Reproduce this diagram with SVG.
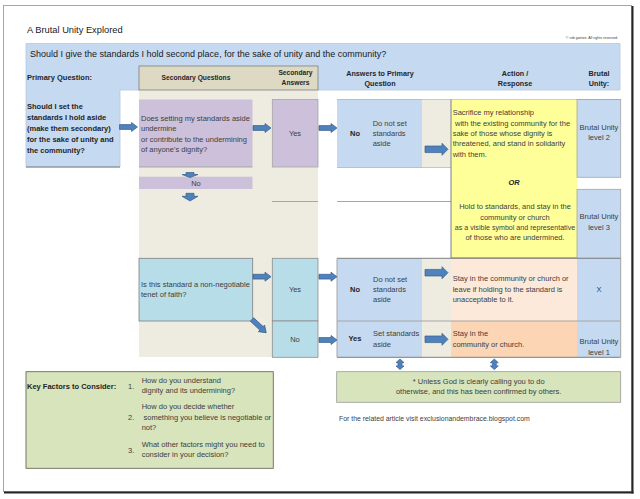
<svg xmlns="http://www.w3.org/2000/svg" xmlns:xlink="http://www.w3.org/1999/xlink" width="640" height="499" viewBox="0 0 640 499">
<style>
text { font-family: "Liberation Sans", Arial, sans-serif; }
.t { font-size: 7.5px; fill: #404040; }
.b { font-size: 7.5px; font-weight: bold; fill: #1f1f1f; }
.h { font-size: 7.2px; font-weight: bold; fill: #262626; }
.c { text-anchor: middle; }
.ln { stroke: #a6a6a6; stroke-width: 1; fill: none; }
.dk { stroke: #7f7f7f; stroke-width: 1; fill: none; }
.ar { fill: #4f81bd; stroke: #385d8a; stroke-width: 0.7; }
</style>
<defs>
<path id="ha" d="M0,-2.4 H12 V-4.5 L18,0 L12,4.5 V2.4 H0 Z"/>
<path id="hb" d="M0,-3.3 H17 V-6 L23,0 L17,6 V3.3 H0 Z"/>
<path id="dbl" d="M0,-5.3 L4,-1.6 H2 V1.6 H4 L0,5.3 L-4,1.6 H-2 V-1.6 H-4 Z"/>
</defs>

<g id="frame">
<rect x="3.5" y="5.5" width="628" height="486" fill="#ffffff" stroke="#a6a6a6" stroke-width="1"/>
<line x1="632.5" y1="6" x2="632.5" y2="493.5" stroke="#262626" stroke-width="2"/>
<line x1="4" y1="492.5" x2="633.5" y2="492.5" stroke="#262626" stroke-width="2"/>
<text x="27" y="33" style="font-size:9.3px;fill:#1a1a1a">A Brutal Unity Explored</text>
<text x="618" y="39" style="font-size:3.6px;fill:#404040;text-anchor:end">© rob goetze. All rights reserved.</text>
</g>

<g id="header">
<path d="M26,43.5 H620 V90 H120 V167 H26 Z" fill="#c5d9f1" stroke="#b4c7e0" stroke-width="0.8"/>
<line x1="26" y1="167" x2="120" y2="167" class="dk"/>
<text x="30" y="57" style="font-size:9px;fill:#1a1a1a">Should I give the standards I hold second place, for the sake of unity and the community?</text>
<text x="27" y="79.5" class="h" style="font-size:7.5px">Primary Question:</text>
<text x="380" y="76" class="h c">Answers to Primary</text>
<text x="380" y="86" class="h c">Question</text>
<text x="515" y="76" class="h c">Action /</text>
<text x="515" y="86" class="h c">Response</text>
<text x="599" y="76" class="h c">Brutal</text>
<text x="599" y="86" class="h c">Unity:</text>
</g>

<g id="secondary-column">
<rect x="139" y="90" width="179" height="267" fill="#eeece1"/>
<rect x="139" y="66" width="179" height="24" fill="#ddd9c3" stroke="#7f7f7f" stroke-width="0.8"/>
<text x="196" y="79.5" class="h c" style="font-size:6.7px">Secondary Questions</text>
<text x="295.5" y="75" class="h c" style="font-size:6.7px">Secondary</text>
<text x="295.5" y="85" class="h c" style="font-size:6.7px">Answers</text>
<line x1="272" y1="201.5" x2="318" y2="201.5" class="ln"/>
</g>

<g id="primary-question">
<text class="b" x="27" y="108.7">Should I set the</text>
<text class="b" x="27" y="119.7">standards I hold aside</text>
<text class="b" x="27" y="130.7">(make them secondary)</text>
<text class="b" x="27" y="141.7">for the sake of unity and</text>
<text class="b" x="27" y="152.7">the community?</text>
</g>

<g id="q-dignity">
<rect x="139" y="99.5" width="113.5" height="67.5" fill="#ccc0da"/>
<line x1="139" y1="167" x2="252.5" y2="167" class="ln"/>
<text class="t" x="141" y="120.7">Does setting my standards aside</text>
<text class="t" x="141" y="131">undermine</text>
<text class="t" x="141" y="141.5">or contribute to the undermining</text>
<text class="t" x="141" y="152">of anyone's dignity?</text>
</g>

<g id="a-dignity-yes">
<rect x="272.3" y="99.5" width="45.7" height="67.5" fill="#ccc0da" stroke="#a6a6a6" stroke-width="0.8"/>
<text class="t c" x="295" y="136">Yes</text>
</g>

<g id="a-dignity-no">
<rect x="139" y="176.7" width="113.5" height="12.3" fill="#ccc0da"/>
<text class="t c" x="196" y="186">No</text>
</g>

<g id="q-negotiable">
<rect x="139" y="258.3" width="113.7" height="62.7" fill="#b7dde8" stroke="#7f7f7f" stroke-width="0.8"/>
<text class="t" x="141" y="286.7">Is this standard a non-negotiable</text>
<text class="t" x="141" y="297.3">tenet of faith?</text>
</g>

<g id="a-negotiable-yes">
<rect x="272.3" y="258.3" width="45.7" height="62.7" fill="#b7dde8" stroke="#8c8c8c" stroke-width="0.8"/>
<text class="t c" x="295" y="292">Yes</text>
</g>

<g id="a-negotiable-no">
<rect x="272.3" y="321" width="45.7" height="36.3" fill="#b7dde8" stroke="#8c8c8c" stroke-width="0.8"/>
<text class="t c" x="295" y="341.7">No</text>
</g>

<g id="row-lines">
<line x1="337" y1="99.5" x2="620.7" y2="99.5" class="ln"/>
<line x1="337" y1="167.3" x2="451" y2="167.3" class="ln"/>
<line x1="337" y1="201.5" x2="451" y2="201.5" class="ln"/>
</g>

<g id="ans-no-1">
<rect x="337" y="99.5" width="85" height="67.8" fill="#c5d9f1"/>
<rect x="422" y="99.5" width="29" height="67.8" fill="#eeece1"/>
<text class="b c" x="355" y="135.7">No</text>
<text class="t" x="372.7" y="125.7">Do not set</text>
<text class="t" x="372.7" y="136">standards</text>
<text class="t" x="372.7" y="146.3">aside</text>
</g>

<g id="action-sacrifice-or-hold">
<rect x="451" y="99.5" width="126" height="158.5" fill="#ffff99"/>
<path d="M451,99.5 V258 H577" class="dk" stroke="#6b6b47"/>
<text class="t" x="452.7" y="115.3">Sacrifice my relationship</text>
<text class="t" x="455" y="125.7">with the existing community for the</text>
<text class="t" x="452.7" y="136">sake of those whose dignity is</text>
<text class="t" x="452.7" y="146.3">threatened, and stand in solidarity</text>
<text class="t" x="452.7" y="156.7">with them.</text>
<text class="c" x="514" y="185" style="font-size:7.5px;font-weight:bold;font-style:italic;fill:#262626">OR</text>
<text class="t c" x="515" y="209.3">Hold to standards, and stay in the</text>
<text class="t c" x="515" y="219.7">community or church</text>
<text class="t c" x="515" y="229.7" style="font-size:7.1px">as a visible symbol and representative</text>
<text class="t c" x="515" y="240">of those who are undermined.</text>
</g>

<g id="brutal-level-2">
<rect x="577" y="99.5" width="43.7" height="77.8" fill="#c5d9f1" stroke="#a6a6a6" stroke-width="0.8"/>
<text class="t c" x="599" y="130">Brutal Unity</text>
<text class="t c" x="599" y="140.3">level 2</text>
</g>

<g id="brutal-level-3">
<rect x="577" y="189.3" width="43.7" height="69" fill="#c5d9f1" stroke="#a6a6a6" stroke-width="0.8"/>
<text class="t c" x="599" y="219.3">Brutal Unity</text>
<text class="t c" x="599" y="229.7">level 3</text>
</g>

<g id="ans-no-2">
<rect x="337" y="258.3" width="85" height="62.7" fill="#c5d9f1"/>
<rect x="422" y="258.3" width="29" height="62.7" fill="#eeece1"/>
<text class="b c" x="355" y="292">No</text>
<text class="t" x="373" y="281.7">Do not set</text>
<text class="t" x="373" y="292">standards</text>
<text class="t" x="373" y="302.3">aside</text>
</g>

<g id="action-stay-or-leave">
<rect x="451" y="258.3" width="126" height="62.7" fill="#fde9d9"/>
<text class="t" x="452.7" y="281.3">Stay in the community or church or</text>
<text class="t" x="452.7" y="291.7">leave if holding to the standard is</text>
<text class="t" x="452.7" y="302">unacceptable to it.</text>
</g>

<g id="brutal-x">
<rect x="577" y="258.3" width="43.7" height="62.7" fill="#c5d9f1"/>
<text class="t c" x="599" y="291.7">X</text>
</g>

<g id="ans-yes">
<rect x="337" y="321" width="85" height="36.3" fill="#c5d9f1"/>
<rect x="422" y="321" width="29" height="36.3" fill="#eeece1"/>
<text class="b c" x="355" y="341">Yes</text>
<text class="t" x="373" y="336">Set  standards</text>
<text class="t" x="373" y="346.7">aside</text>
</g>

<g id="action-stay">
<rect x="451" y="321" width="126" height="36.3" fill="#fcd5b4"/>
<text class="t" x="452.7" y="336">Stay in the</text>
<text class="t" x="452.7" y="346.7">community or church.</text>
</g>

<g id="brutal-level-1">
<rect x="577" y="321" width="43.7" height="36.3" fill="#c5d9f1"/>
<text class="t c" x="599" y="344">Brutal Unity</text>
<text class="t c" x="599" y="354.7">level 1</text>
</g>

<g id="table-lines">
<line x1="337" y1="258.3" x2="620.7" y2="258.3" class="dk"/>
<line x1="337" y1="321" x2="620.7" y2="321" class="ln"/>
<line x1="337" y1="357.3" x2="620.7" y2="357.3" class="dk"/>
<line x1="620.7" y1="258.3" x2="620.7" y2="357.3" class="ln"/>
<line x1="337" y1="258.3" x2="337" y2="357.3" class="ln"/>
</g>

<g id="note">
<rect x="336.7" y="371.7" width="284" height="30.6" fill="#d7e4bc" stroke="#9a9a9a" stroke-width="0.8"/>
<text class="t c" x="478.7" y="384">* Unless God is clearly calling you to do</text>
<text class="t c" x="478.7" y="394">otherwise, and this has been confirmed by others.</text>
</g>

<g id="link">
<text class="t" x="339" y="420.7" style="font-size:6.9px">For the related article visit exclusionandembrace.blogspot.com</text>
</g>

<g id="key-factors">
<rect x="26" y="371.7" width="247.3" height="96.6" fill="#d7e4bc" stroke="#6b6b5a" stroke-width="0.9"/>
<text class="b" x="27" y="389.3">Key Factors to Consider:</text>
<text class="t" x="128" y="389.3">1.</text>
<text class="t" x="141.7" y="383.3">How do you understand</text>
<text class="t" x="141.7" y="393.3">dignity and its undermining?</text>
<text class="t" x="141.7" y="409">How do you decide whether</text>
<text class="t" x="128" y="420">2.</text>
<text class="t" x="143.5" y="420">something you believe is negotiable or</text>
<text class="t" x="141.7" y="430">not?</text>
<text class="t" x="141.7" y="447.3">What other factors might you need to</text>
<text class="t" x="128" y="453.3">3.</text>
<text class="t" x="141.7" y="457.3">consider in your decision?</text>
</g>

<g id="connectors">
<use href="#ha" class="ar" transform="translate(119.5,127)"/>
<use href="#ha" class="ar" transform="translate(253,128)"/>
<use href="#ha" class="ar" transform="translate(319,128)"/>
<use href="#hb" class="ar" transform="translate(425,149.3)"/>
<path class="ar" d="M186,172.5 H194 V174.5 H198 L190,177.5 L182,174.5 H186 Z"/>
<path class="ar" d="M186,193.3 H194 V196.3 H198 L190,201 L182,196.3 H186 Z"/>
<use href="#ha" class="ar" transform="translate(253,276.7)"/>
<use href="#ha" class="ar" transform="translate(319,276.7)"/>
<use href="#hb" class="ar" transform="translate(425,272.7)"/>
<use href="#ha" class="ar" transform="translate(252,319.5) rotate(43) scale(1.08,1)"/>
<use href="#ha" class="ar" transform="translate(319,340)"/>
<use href="#hb" class="ar" transform="translate(425,339.3)"/>
<use href="#dbl" class="ar" transform="translate(400,364.3)"/>
<use href="#dbl" class="ar" transform="translate(494.3,364.3)"/>
</g>
</svg>
